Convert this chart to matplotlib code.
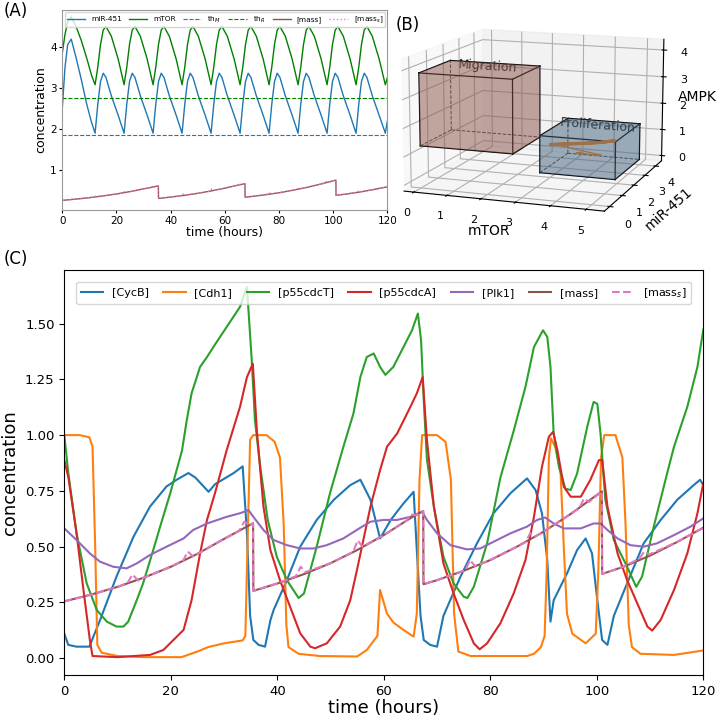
import matplotlib
matplotlib.use('Agg')
import matplotlib.pyplot as plt
import numpy as np
from mpl_toolkits.mplot3d.art3d import Poly3DCollection

# ---------------- panel A: miR-451 / mTOR ----------------
a_time = [0, 1, 2, 3.3, 5, 7, 9, 10.8,
          12.1, 13.1, 14.1, 15.1, 16.1, 18.1, 20.6,
          22.8, 23.8, 24.8, 25.8, 26.8, 28.8, 31.3,
          33.5, 34.5, 35.5, 36.5, 37.5, 39.5, 42.0,
          44.2, 45.2, 46.2, 47.2, 48.2, 50.2, 52.7,
          54.9, 55.9, 56.9, 57.9, 58.9, 60.9, 63.4,
          65.6, 66.6, 67.6, 68.6, 69.6, 71.6, 74.1,
          76.3, 77.3, 78.3, 79.3, 80.3, 82.3, 84.8,
          87.0, 88.0, 89.0, 90.0, 91.0, 93.0, 95.5,
          97.7, 98.7, 99.7, 100.7, 101.7, 103.7, 106.2,
          108.4, 109.4, 110.4, 111.4, 112.4, 114.4, 116.9,
          119.2, 120]
a_mtor = [3.84, 4.3, 4.6, 4.72, 4.5, 4.15, 3.72, 3.3,
          3.07, 3.5, 4.05, 4.4, 4.49, 4.25, 3.7,
          3.07, 3.5, 4.05, 4.4, 4.49, 4.25, 3.7,
          3.07, 3.5, 4.05, 4.4, 4.49, 4.25, 3.7,
          3.07, 3.5, 4.05, 4.4, 4.49, 4.25, 3.7,
          3.07, 3.5, 4.05, 4.4, 4.49, 4.25, 3.7,
          3.07, 3.5, 4.05, 4.4, 4.49, 4.25, 3.7,
          3.07, 3.5, 4.05, 4.4, 4.49, 4.25, 3.7,
          3.07, 3.5, 4.05, 4.4, 4.49, 4.25, 3.7,
          3.07, 3.5, 4.05, 4.4, 4.49, 4.25, 3.7,
          3.07, 3.5, 4.05, 4.4, 4.49, 4.25, 3.7,
          3.07, 3.25]
a_mir = [2.5, 3.5, 4.05, 4.18, 3.75, 3.2, 2.6, 2.15,
         1.89, 2.6, 3.15, 3.35, 3.25, 2.8, 2.33,
         1.89, 2.6, 3.15, 3.35, 3.25, 2.8, 2.33,
         1.89, 2.6, 3.15, 3.35, 3.25, 2.8, 2.33,
         1.89, 2.6, 3.15, 3.35, 3.25, 2.8, 2.33,
         1.89, 2.6, 3.15, 3.35, 3.25, 2.8, 2.33,
         1.89, 2.6, 3.15, 3.35, 3.25, 2.8, 2.33,
         1.89, 2.6, 3.15, 3.35, 3.25, 2.8, 2.33,
         1.89, 2.6, 3.15, 3.35, 3.25, 2.8, 2.33,
         1.89, 2.6, 3.15, 3.35, 3.25, 2.8, 2.33,
         1.89, 2.6, 3.15, 3.35, 3.25, 2.8, 2.33,
         1.89, 2.2]
th_m = 1.85
th_r = 2.75

# ---------------- cell mass (A and C) ----------------
mass_t = [0, 5, 10, 15, 20, 25, 30, 35.45,
          35.5, 40, 45, 50, 55, 60, 65, 67.4,
          67.45, 70, 75, 80, 85, 90, 95, 100.95,
          101, 105, 110, 115, 120]
mass = [0.255, 0.285, 0.32, 0.362, 0.41, 0.468, 0.535, 0.605,
        0.302, 0.335, 0.377, 0.426, 0.485, 0.552, 0.628, 0.66,
        0.332, 0.35, 0.392, 0.44, 0.5, 0.567, 0.645, 0.748,
        0.378, 0.41, 0.46, 0.52, 0.585]
mass_s_t = [0, 5, 10, 11.8, 12.8, 13.9, 15, 20, 22.3, 23.2,
            24.2, 30, 32.8, 33.8, 34.8, 35.45, 35.5, 40, 43.5, 44.4,
            45.3, 50, 54.2, 55.1, 56, 60, 64.2, 65.1, 66, 67.4,
            67.45, 70, 75.3, 76.2, 77.1, 80, 86.6, 87.5, 88.4, 90,
            95, 96.7, 97.6, 98.5, 100.95, 101, 105, 108, 108.9, 109.8,
            115, 120]
mass_s = [0.255, 0.285, 0.32, 0.335, 0.375, 0.348, 0.362, 0.41, 0.437, 0.478,
          0.456, 0.535, 0.57, 0.612, 0.597, 0.605, 0.302, 0.335, 0.368, 0.41,
          0.386, 0.426, 0.475, 0.528, 0.5, 0.552, 0.615, 0.645, 0.64, 0.66,
          0.332, 0.35, 0.395, 0.44, 0.413, 0.44, 0.52, 0.56, 0.545, 0.567,
          0.645, 0.672, 0.716, 0.7, 0.748, 0.378, 0.41, 0.447, 0.478, 0.465,
          0.52, 0.585]

# ---------------- panel C: cell cycle ----------------
cycb_t = [0, 0.75, 2.3, 4.7, 6.7, 9.8, 13, 16.1, 19.2, 21.1, 23.3, 24.6, 27.1,
          28.3, 31.8, 33.5, 34.3, 34.9, 35.5, 36.5, 37.7, 38.7, 39.3, 41.8,
          44.3, 47.4, 50.6, 53.7, 55.6, 57.5, 59.3, 61.3, 63.7, 65.6, 66.2,
          66.9, 67.5, 68.7, 70, 71.2, 74.4, 77.5, 80.6, 83.8, 86.9, 88.5, 89.7,
          90.7, 91.3, 91.9, 94.4, 96.3, 97.9, 99.1, 100.1, 101, 102, 103.2,
          105.7, 108.8, 112, 115.1, 118.2, 119.4, 120]
cycb = [0.11, 0.06, 0.052, 0.052, 0.17, 0.366, 0.545, 0.68, 0.77, 0.8, 0.83, 0.81,
        0.746, 0.78, 0.83, 0.86, 0.56, 0.19, 0.082, 0.06, 0.052, 0.17, 0.216,
        0.35, 0.5, 0.62, 0.71, 0.776, 0.8, 0.71, 0.537, 0.62, 0.694, 0.746,
        0.485, 0.19, 0.082, 0.06, 0.052, 0.19, 0.366, 0.515, 0.65, 0.74, 0.806,
        0.754, 0.65, 0.44, 0.164, 0.26, 0.38, 0.485, 0.537, 0.47, 0.26, 0.082,
        0.06, 0.19, 0.336, 0.515, 0.62, 0.71, 0.776, 0.8, 0.776]

cdh1_t = [0, 2.9, 4.7, 5.3, 5.8, 6.2, 7, 10, 15, 22, 25, 27, 30, 33.5, 34.0,
          34.5, 34.9, 35.5, 38, 39.5, 40.5, 41.2, 41.7, 42.1, 44, 48, 55, 56.8,
          58.8, 59.3, 60.6, 61.8, 63.7, 65.6, 66.2, 66.7, 67.2, 70, 71.6, 72.6,
          73.2, 74, 76.3, 86.9, 88.2, 89.5, 90.2, 90.6, 91.0, 91.4, 92.2, 93.2,
          93.8, 94.4, 95.4, 97.9, 99.8, 100.3, 100.8, 101.4, 103.5, 104.8,
          105.4, 106.0, 106.6, 108.2, 114.5, 120]
cdh1 = [1.0, 1.0, 0.99, 0.95, 0.5, 0.06, 0.025, 0.01, 0.005, 0.005, 0.03, 0.05,
        0.067, 0.08, 0.1, 0.6, 0.98, 1.0, 1.0, 0.97, 0.9, 0.6, 0.15, 0.05, 0.02,
        0.01, 0.008, 0.037, 0.1, 0.306, 0.2, 0.16, 0.127, 0.097, 0.2, 0.8, 1.0,
        1.0, 0.97, 0.8, 0.2, 0.03, 0.01, 0.01, 0.02, 0.05, 0.1, 0.4, 0.9, 0.985,
        0.947, 0.83, 0.5, 0.2, 0.11, 0.067, 0.11, 0.4, 0.9, 1.0, 1.0, 0.9, 0.6,
        0.15, 0.05, 0.02, 0.015, 0.035]

p55t_t = [0, 0.75, 2.3, 4.2, 6.1, 8, 9.8, 11.1, 12, 13.6, 14.8, 16.7, 18, 19.9,
          22.1, 23, 23.9, 25.5, 26.8, 28, 30.5, 33, 34.3, 35.2, 35.8, 36.8,
          38.2, 39.9, 41.8, 44, 45, 47.4, 49.9, 52.4, 54.3, 55.6, 56.8, 58.1,
          59.3, 60.3, 61.8, 63.7, 65.3, 66.4, 67, 67.5, 68.1, 69.4, 71.2, 73.1,
          75, 75.7, 76.9, 79.4, 81.9, 84.4, 86.6, 88.2, 89.9, 90.7, 91.3, 91.9,
          92.9, 94.1, 95.1, 96.3, 98.2, 99.4, 100.1, 100.7, 101.6, 103.2, 105.7,
          107.4, 108.5, 110.7, 113.2, 114.5, 117, 118.9, 120]
p55t = [1.0, 0.83, 0.56, 0.336, 0.216, 0.164, 0.142, 0.142, 0.164, 0.26, 0.336,
        0.485, 0.59, 0.74, 0.93, 1.067, 1.187, 1.306, 1.35, 1.395, 1.485, 1.575,
        1.664, 1.336, 1.067, 0.858, 0.62, 0.455, 0.35, 0.27, 0.29, 0.5, 0.74,
        0.947, 1.097, 1.26, 1.35, 1.366, 1.306, 1.27, 1.306, 1.395, 1.47, 1.545,
        1.425, 1.157, 0.89, 0.68, 0.455, 0.336, 0.276, 0.27, 0.32, 0.515, 0.81,
        1.02, 1.216, 1.395, 1.47, 1.44, 1.306, 1.007, 0.858, 0.76, 0.754, 0.828,
        1.037, 1.149, 1.14, 1.007, 0.71, 0.53, 0.41, 0.32, 0.366, 0.59, 0.828,
        0.948, 1.127, 1.306, 1.473]

p55a_t = [0, 0.75, 2.3, 3.6, 4.8, 5.3, 10, 16.1, 18.6, 20.5, 22.4, 23.9, 25.5,
          26.8, 28.3, 30.5, 33, 34.3, 35.4, 36.2, 37.4, 38.7, 40.5, 42.4, 44.3,
          46.2, 47.1, 49.3, 51.8, 53.7, 55, 57.5, 59.3, 60.6, 62.5, 65, 66.2,
          67.3, 68.1, 69.4, 71.2, 73.1, 75, 76.9, 78, 79.4, 81.9, 84.4, 86.6,
          88.2, 89.7, 91, 91.8, 92.6, 93.8, 95.1, 97, 98.8, 100.4, 101, 102,
          103.9, 105.7, 107.6, 109.5, 110.4, 112, 114.5, 117, 118.9, 120]
p55a = [0.888, 0.813, 0.56, 0.306, 0.082, 0.01, 0.005, 0.015, 0.037, 0.082,
        0.127, 0.26, 0.47, 0.62, 0.74, 0.933, 1.127, 1.26, 1.32, 1.007, 0.68,
        0.485, 0.35, 0.231, 0.112, 0.052, 0.045, 0.067, 0.142, 0.26, 0.40, 0.68,
        0.843, 0.948, 1.007, 1.127, 1.187, 1.26, 0.978, 0.68, 0.425, 0.291,
        0.172, 0.067, 0.04, 0.067, 0.157, 0.291, 0.44, 0.634, 0.858, 0.993,
        1.015, 0.933, 0.769, 0.724, 0.724, 0.8, 0.888, 0.888, 0.68, 0.47, 0.35,
        0.246, 0.142, 0.124, 0.172, 0.306, 0.47, 0.65, 0.784]

plk1_t = [0, 2.3, 4.8, 6.7, 9.2, 11.7, 13.6, 16.1, 19.2, 22.4, 24.2, 26.8, 30.5,
          33, 34.6, 35.5, 37.4, 39.3, 41.8, 44.3, 46.8, 49.3, 52.4, 55.6, 57.5,
          60, 62.5, 65, 67.2, 68.1, 70, 72.5, 75.6, 78.1, 80.6, 83.8, 86.9, 88.8,
          90.3, 91.9, 93.8, 97, 99.4, 100.7, 102, 103.9, 106.3, 108.8, 111.3,
          114.5, 117.6, 120]
plk1 = [0.582, 0.53, 0.47, 0.433, 0.41, 0.403, 0.425, 0.463, 0.5, 0.537, 0.575,
        0.604, 0.634, 0.65, 0.664, 0.634, 0.575, 0.53, 0.507, 0.492, 0.492,
        0.507, 0.537, 0.585, 0.612, 0.62, 0.62, 0.634, 0.657, 0.62, 0.56, 0.507,
        0.488, 0.492, 0.522, 0.56, 0.59, 0.62, 0.631, 0.604, 0.582, 0.582,
        0.604, 0.604, 0.575, 0.537, 0.507, 0.5, 0.515, 0.552, 0.59, 0.627]

# ---------------- panel B: phenotype boxes (mTOR, miR-451, AMPK) ----------------
migration_box = (0, th_r, 0, th_m, 1.3, 3.85)
proliferation_box = (th_r, 5, th_m, 4, 0, 1.35)
cycle_mtor = [3.07, 3.5, 4.05, 4.4, 4.49, 4.25, 3.7, 3.07]
cycle_mir = [1.89, 2.6, 3.15, 3.35, 3.25, 2.8, 2.33, 1.89]
cycle_ampk = [1.05, 0.9, 0.82, 0.85, 0.9, 0.95, 1.0, 1.05]
start_mtor = [3.84, 4.1, 4.3, 4.45, 4.5, 4.3, 4.0, 3.6, 3.3]
start_mir = [2.5, 2.4, 2.3, 2.2, 2.1, 2.0, 1.95, 1.9, 1.89]
start_ampk = [0.6, 0.62, 0.65, 0.7, 0.75, 0.82, 0.9, 0.98, 1.05]


fig = plt.figure(figsize=(7.18, 7.19), dpi=100)

# ---- A ----
axA = fig.add_axes([62.3/718, 1 - 210/719, 325.2/718, 200/719])
axA.plot(a_time, a_mir, color='tab:blue', lw=1, label='miR-451')
axA.plot(a_time, a_mtor, color='g', lw=1, label='mTOR')
axA.axhline(th_m, color='tab:blue', ls='--', lw=0.8, label='th$_M$')
axA.axhline(th_r, color='g', ls='--', lw=0.8, label='th$_R$')
axA.plot(mass_t, mass, color='tab:brown', lw=1, label='[mass]')
axA.plot(mass_s_t, mass_s, color='tab:pink', ls=':', lw=1, label='[mass$_s$]')
axA.set_xlim(0, 120)
axA.set_ylim(0.02, 4.89)
axA.set_yticks([1, 2, 3, 4])
axA.set_xlabel('time (hours)', fontsize=9, labelpad=0)
axA.set_ylabel('concentration', fontsize=9, labelpad=2)
axA.tick_params(labelsize=7.5, length=2, pad=2)
for s in axA.spines.values():
    s.set_color('0.6')
axA.legend(ncol=6, fontsize=5.3, loc='upper left', bbox_to_anchor=(0, 0, 1, 1),
           mode='expand', borderaxespad=0.3, handlelength=2.5, borderpad=0.3)

# ---- B ----
axB = fig.add_axes([370/718, 1 - 241/719, 330/718, 250/719], projection='3d')
axB.set_box_aspect((3.6, 3.6, 2.3), zoom=1.22)
axB.view_init(elev=12, azim=-70)


def draw_box(ax, box, color, name):
    x0, x1, y0, y1, z0, z1 = box
    faces = [[(x0, y0, z0), (x1, y0, z0), (x1, y1, z0), (x0, y1, z0)],
             [(x0, y0, z1), (x1, y0, z1), (x1, y1, z1), (x0, y1, z1)],
             [(x0, y0, z0), (x1, y0, z0), (x1, y0, z1), (x0, y0, z1)],
             [(x0, y1, z0), (x1, y1, z0), (x1, y1, z1), (x0, y1, z1)],
             [(x0, y0, z0), (x0, y1, z0), (x0, y1, z1), (x0, y0, z1)],
             [(x1, y0, z0), (x1, y1, z0), (x1, y1, z1), (x1, y0, z1)]]
    ax.add_collection3d(Poly3DCollection(faces, facecolor=color, alpha=0.3,
                                         edgecolor='none'))
    corners = [(x, y, z) for x in (x0, x1) for y in (y0, y1) for z in (z0, z1)]
    hidden = (x0, y1, z0)
    for i, p in enumerate(corners):
        for q in corners[i + 1:]:
            if sum(a != b for a, b in zip(p, q)) == 1:
                if hidden in (p, q):
                    ax.plot(*zip(p, q), color='0.25', lw=0.7, ls='--')
                else:
                    ax.plot(*zip(p, q), color='k', lw=0.9)
    ax.text((x0 + x1) / 2, y0 + 0.75 * (y1 - y0), z1, name, 'x', ha='center',
            va='center', fontsize=9, color='0.1')


draw_box(axB, migration_box, '#8c564b', 'Migration')
draw_box(axB, proliferation_box, '#46647d', 'Proliferation')
axB.plot(start_mtor, start_mir, start_ampk, color='tab:orange', lw=0.9)
axB.plot(cycle_mtor, cycle_mir, cycle_ampk, color='tab:orange', lw=2.2)
axB.quiver(start_mtor[0], start_mir[0], start_ampk[0], -0.25, 0, 0,
           color='tab:orange', arrow_length_ratio=0.7, lw=0.9)
axB.set_xlim(-0.3, 5.5)
axB.set_ylim(-0.4, 4.6)
axB.set_zlim(-0.2, 4.4)
axB.set_xticks(range(6))
axB.set_yticks(range(5))
axB.set_zticks(range(5))
axB.tick_params(labelsize=8, pad=0)
axB.set_xlabel('mTOR', fontsize=10, labelpad=-6)
axB.set_ylabel('miR-451', fontsize=10, labelpad=-5)
axB.zaxis.set_rotate_label(False)
axB.set_zlabel('AMPK', fontsize=10, labelpad=-7, rotation=0)
axB.zaxis.set_ticks_position('upper')
axB.zaxis.set_label_position('upper')

# ---- C ----
axC = fig.add_axes([64.3/718, 1 - 675/719, 639/718, 405/719])
axC.plot(cycb_t, cycb, color='tab:blue', lw=1.5, label='[CycB]')
axC.plot(cdh1_t, cdh1, color='tab:orange', lw=1.5, label='[Cdh1]')
axC.plot(p55t_t, p55t, color='tab:green', lw=1.5, label='[p55cdcT]')
axC.plot(p55a_t, p55a, color='tab:red', lw=1.5, label='[p55cdcA]')
axC.plot(plk1_t, plk1, color='tab:purple', lw=1.5, label='[Plk1]')
axC.plot(mass_t, mass, color='tab:brown', lw=1.5, label='[mass]')
axC.plot(mass_s_t, mass_s, color='tab:pink', ls='--', lw=1.5, label='[mass$_s$]')
axC.set_xlim(0, 120)
axC.set_ylim(-0.075, 1.74)
axC.set_yticks([0, 0.25, 0.5, 0.75, 1.0, 1.25, 1.5])
axC.set_yticklabels(['0.00', '0.25', '0.50', '0.75', '1.00', '1.25', '1.50'])
axC.set_xlabel('time (hours)', fontsize=13, labelpad=1)
axC.set_ylabel('concentration', fontsize=13)
axC.tick_params(labelsize=9.5)
axC.legend(ncol=7, fontsize=8, loc='upper center', bbox_to_anchor=(0.5, 0.985),
           columnspacing=1.3)

fig.text(4/718, 1 - 11/719, '(A)', fontsize=12, va='center')
fig.text(396/718, 1 - 25/719, '(B)', fontsize=12, va='center')
fig.text(4/718, 1 - 259/719, '(C)', fontsize=12, va='center')

fig.savefig('out.png', dpi=100)
